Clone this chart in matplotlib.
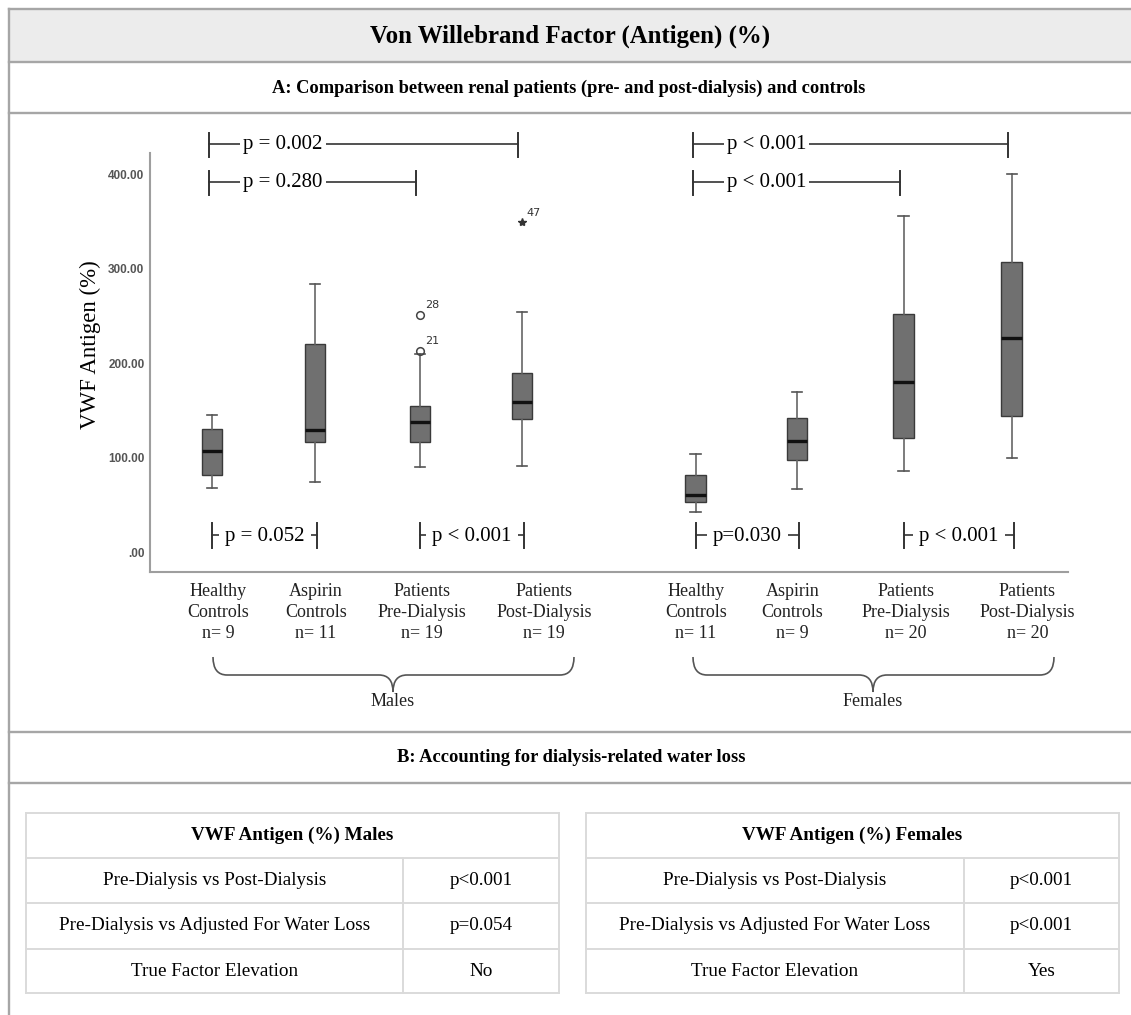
import matplotlib
matplotlib.use("Agg")
import matplotlib.pyplot as plt
from matplotlib.patches import Rectangle
from matplotlib.path import Path
from matplotlib.patches import PathPatch
from matplotlib.transforms import blended_transform_factory

plt.rcParams['font.family'] = ['Liberation Serif', 'DejaVu Serif']

# ---------------- data ----------------
categories = ["Healthy\nControls", "Aspirin\nControls", "Patients\nPre-Dialysis", "Patients\nPost-Dialysis"]
male_n = [9, 11, 19, 19]
female_n = [11, 9, 20, 20]

male_q1 = [82, 117, 117, 141]
male_med = [107, 129, 138, 159]
male_q3 = [131, 220, 155, 190]
male_whislo = [68, 74, 90, 91]
male_whishi = [145, 284, 210, 254]
male_outliers = [[], [], [251, 213], []]
male_outlier_ids = [[], [], ["28", "21"], []]
male_extremes = [[], [], [], [350]]
male_extreme_ids = [[], [], [], ["47"]]

female_q1 = [53, 98, 121, 144]
female_med = [61, 118, 180, 227]
female_q3 = [82, 142, 252, 307]
female_whislo = [43, 67, 86, 100]
female_whishi = [104, 170, 356, 400]

ytick_values = [0, 100, 200, 300, 400]
ytick_labels = [".00", "100.00", "200.00", "300.00", "400.00"]

# comparisons: (label, i, j)
male_top = [("p = 0.002", 0, 3), ("p = 0.280", 0, 2)]
female_top = [("p < 0.001", 0, 3), ("p < 0.001", 0, 2)]
male_bottom = [("p = 0.052", 0, 1), ("p < 0.001", 2, 3)]
female_bottom = [("p=0.030", 0, 1), ("p < 0.001", 2, 3)]

title = "Von Willebrand Factor (Antigen) (%)"
sub_a = "A: Comparison between renal patients (pre- and post-dialysis) and controls"
sub_b = "B: Accounting for dialysis-related water loss"
group_names = ["Males", "Females"]

table_row_labels = ["Pre-Dialysis vs Post-Dialysis", "Pre-Dialysis vs Adjusted For Water Loss", "True Factor Elevation"]
male_table_values = ["p<0.001", "p=0.054", "No"]
female_table_values = ["p<0.001", "p<0.001", "Yes"]
male_table_title = "VWF Antigen (%) Males"
female_table_title = "VWF Antigen (%) Females"

# ---------------- layout ----------------
W, H = 1131, 1015
fig = plt.figure(figsize=(W / 100, H / 100), dpi=100)
fig.patch.set_facecolor("white")

ov = fig.add_axes([0, 0, 1, 1], zorder=0)
ov.set_xlim(0, W)
ov.set_ylim(H, 0)
ov.axis("off")

ax_l, ax_r, ax_t, ax_b = 150, 1068, 153.3, 572
ax = fig.add_axes([ax_l / W, 1 - ax_b / H, (ax_r - ax_l) / W, (ax_b - ax_t) / H], zorder=2)
ax.patch.set_alpha(0)

positions = [1, 1.99, 3.0, 3.98, 5.65, 6.625, 7.65, 8.69]
label_positions = [1.06, 2.0, 3.02, 4.19, 5.65, 6.58, 7.67, 8.84]

stats = []
for k in range(4):
    stats.append(dict(q1=male_q1[k], med=male_med[k], q3=male_q3[k],
                      whislo=male_whislo[k], whishi=male_whishi[k],
                      fliers=male_outliers[k]))
for k in range(4):
    stats.append(dict(q1=female_q1[k], med=female_med[k], q3=female_q3[k],
                      whislo=female_whislo[k], whishi=female_whishi[k],
                      fliers=[]))

ax.bxp(stats, positions=positions, widths=0.2, patch_artist=True, showfliers=True,
       boxprops=dict(facecolor="#707070", edgecolor="#3a3a3a", linewidth=1.0),
       medianprops=dict(color="#111111", linewidth=2.4),
       whiskerprops=dict(color="#666666", linewidth=1.2),
       capprops=dict(color="#555555", linewidth=1.2),
       flierprops=dict(marker="o", markerfacecolor="none", markeredgecolor="#444444",
                       markersize=5.5, markeredgewidth=1.1))

# outlier labels and extreme values
for k in range(4):
    for v, lab in zip(male_outliers[k], male_outlier_ids[k]):
        ax.annotate(lab, (positions[k], v), xytext=(4, 5), textcoords="offset points",
                    fontsize=8, family="DejaVu Sans", color="#333333")
    for v, lab in zip(male_extremes[k], male_extreme_ids[k]):
        ax.plot([positions[k]], [v], marker="*", color="#333333", markersize=6, linestyle="none")
        ax.annotate(lab, (positions[k], v), xytext=(3, 4), textcoords="offset points",
                    fontsize=8, family="DejaVu Sans", color="#333333")

ax.set_xlim(0.404, 9.23)
ax.set_ylim(-20.8, 422.2)
for s in ["top", "right"]:
    ax.spines[s].set_visible(False)
for s in ["left", "bottom"]:
    ax.spines[s].set_color("#9e9e9e")
    ax.spines[s].set_linewidth(1.5)

ax.set_yticks(ytick_values)
ax.set_yticklabels(ytick_labels, family="Liberation Sans", fontweight="bold", fontsize=8.5, color="#555555")
ax.tick_params(axis="y", length=0, pad=4)

xlabels = [f"{c}\nn= {n}" for c, n in zip(categories, male_n)] + \
          [f"{c}\nn= {n}" for c, n in zip(categories, female_n)]
ax.set_xticks(label_positions)
ax.set_xticklabels(xlabels, fontsize=13, color="#222222", linespacing=1.3)
ax.tick_params(axis="x", length=0, pad=8)

# ---------------- brackets ----------------
bt = blended_transform_factory(ax.transData, ov.transData)
lc = "#333333"


def top_bracket(i, j, ypx, label):
    x0, x1 = positions[i] - 0.03, positions[j] - 0.04
    ax.plot([x0, x1], [ypx, ypx], color=lc, lw=1.2, transform=bt, clip_on=False, zorder=3)
    for x in (x0, x1):
        ax.plot([x, x], [ypx - 11, ypx + 13], color=lc, lw=1.4, transform=bt, clip_on=False, zorder=3)
    ax.text(x0 + 0.33, ypx + 5, label, ha="left", va="baseline", fontsize=15, transform=bt,
            clip_on=False, zorder=4,
            bbox=dict(boxstyle="square,pad=0.15", fc="white", ec="none"))


def bottom_bracket(i, j, label):
    x0, x1 = positions[i], positions[j] + 0.02
    ypx = 535
    ax.plot([x0, x1], [ypx, ypx], color=lc, lw=1.2, transform=bt, clip_on=False, zorder=3)
    for x in (x0, x1):
        ax.plot([x, x], [522.5, 547.5], color=lc, lw=1.4, transform=bt, clip_on=False, zorder=3)
    ax.text((x0 + x1) / 2, 541.5, label, ha="center", va="baseline", fontsize=15, transform=bt,
            clip_on=False, zorder=4,
            bbox=dict(boxstyle="square,pad=0.3", fc="white", ec="none"))


for (lab, i, j), ypx in zip(male_top, [144, 181.7]):
    top_bracket(i, j, ypx, lab)
for (lab, i, j), ypx in zip(female_top, [144, 181.7]):
    top_bracket(i + 4, j + 4, ypx, lab)
for lab, i, j in male_bottom:
    bottom_bracket(i, j, lab)
for lab, i, j in female_bottom:
    bottom_bracket(i + 4, j + 4, lab)

# ---------------- frame ----------------
border = "#a6a6a6"
ov.add_patch(Rectangle((9, 9), W - 9, 53, facecolor="#ececec", edgecolor="none", zorder=0))
for y in [9, 62, 113, 731.5, 782.5]:
    ov.plot([9, W], [y, y], color=border, lw=1.7, zorder=1)
ov.plot([9, 9], [9, H], color=border, lw=1.7, zorder=1)

ov.text(570, 36, title, ha="center", va="center", fontsize=17.9, fontweight="bold")
ov.text(569, 88, sub_a, ha="center", va="center", fontsize=13.3, fontweight="bold")
ov.text(571, 757, sub_b, ha="center", va="center", fontsize=13.3, fontweight="bold")

ov.text(90, 345, "VWF Antigen (%)", rotation=90, ha="center", va="center", fontsize=16.5)


# ---------------- group braces ----------------
def brace(x0, x1, xc, ytop=657, ymid=675, ybot=692, r=14):
    verts = [(x0, ytop), (x0, ymid), (x0 + r, ymid),
             (xc - r, ymid),
             (xc, ymid), (xc, ybot),
             (xc, ymid), (xc + r, ymid),
             (x1 - r, ymid),
             (x1, ymid), (x1, ytop)]
    codes = [Path.MOVETO, Path.CURVE3, Path.CURVE3,
             Path.LINETO,
             Path.CURVE3, Path.CURVE3,
             Path.CURVE3, Path.CURVE3,
             Path.LINETO,
             Path.CURVE3, Path.CURVE3]
    ov.add_patch(PathPatch(Path(verts, codes), facecolor="none", edgecolor="#555555", lw=1.2))


brace(213, 574, 393)
brace(693, 1054, 873)
ov.text(393, 702, group_names[0], ha="center", va="center", fontsize=13, color="#222222")
ov.text(873, 702, group_names[1], ha="center", va="center", fontsize=13, color="#222222")


# ---------------- tables ----------------
def draw_table(x0, xd, x1, header, labels, values):
    ys = [813, 858, 903, 949, 993]
    tc = "#dadada"
    for y in ys:
        ov.plot([x0, x1], [y, y], color=tc, lw=1.4)
    ov.plot([x0, x0], [ys[0], ys[-1]], color=tc, lw=1.4)
    ov.plot([x1, x1], [ys[0], ys[-1]], color=tc, lw=1.4)
    ov.plot([xd, xd], [ys[1], ys[-1]], color=tc, lw=1.4)
    ov.text((x0 + x1) / 2, (ys[0] + ys[1]) / 2, header, ha="center", va="center",
            fontsize=13.8, fontweight="bold")
    for k in range(3):
        yc = (ys[k + 1] + ys[k + 2]) / 2
        ov.text((x0 + xd) / 2, yc, labels[k], ha="center", va="center", fontsize=13.8)
        ov.text((xd + x1) / 2, yc, values[k], ha="center", va="center", fontsize=13.8)


draw_table(26, 403, 559, male_table_title, table_row_labels, male_table_values)
draw_table(586, 963.5, 1119, female_table_title, table_row_labels, female_table_values)

fig.savefig("out.png", dpi=100)
